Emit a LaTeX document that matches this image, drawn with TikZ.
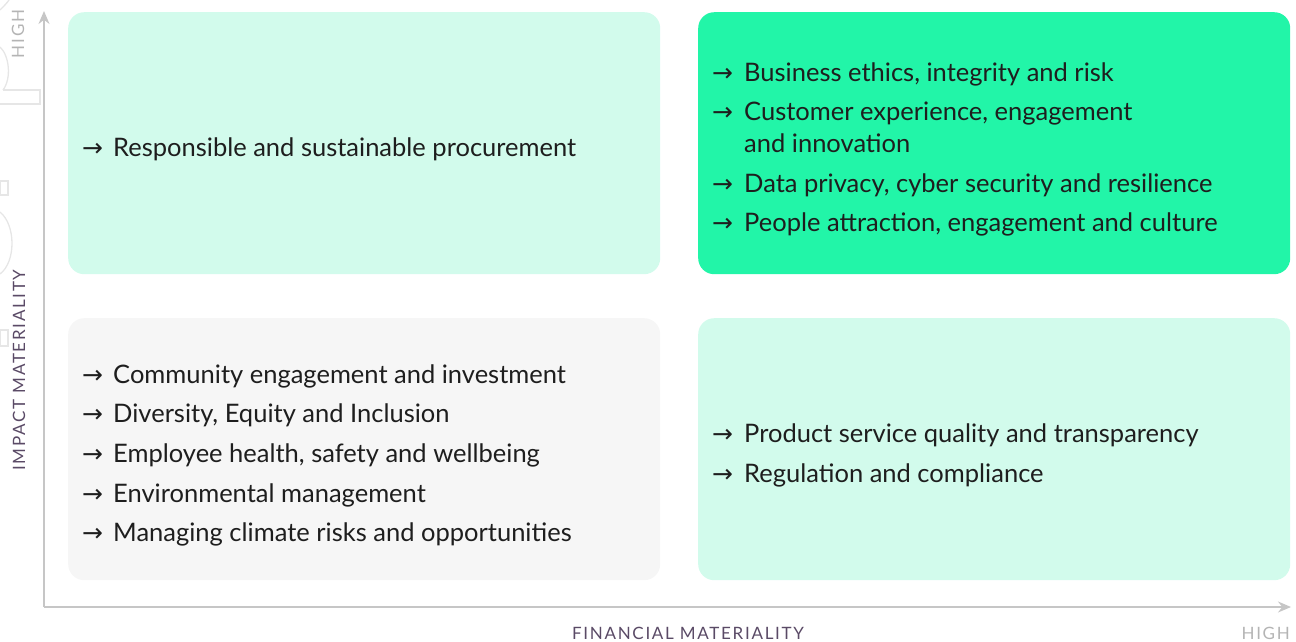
\documentclass[tikz,border=0pt]{standalone}
\usepackage{fontspec}
\setmainfont{Lato}
\newfontfamily\arrowfont{DejaVu Sans}
\newfontfamily\axisfont{Lato}[LetterSpace=10]
\usetikzlibrary{arrows.meta}
\definecolor{mint}{HTML}{D2FBEC}
\definecolor{brightgreen}{HTML}{22F5A8}
\definecolor{panelgray}{HTML}{F6F6F6}
\definecolor{axisgray}{HTML}{C6C6C6}
\definecolor{labelpurple}{HTML}{5A4A66}
\definecolor{highgray}{HTML}{B4B4B4}
\definecolor{faint}{HTML}{E6E6E6}
\definecolor{ink}{HTML}{1E1E1E}
\tikzset{
  panel/.style={rounded corners=16pt, draw=none, anchor=north west, inner sep=0pt,
    minimum width=592pt, minimum height=262pt},
  item/.style={anchor=base west, inner sep=0pt, text=ink, align=left,
    font=\fontsize{25.5}{32}\selectfont},
  arrowmark/.style={anchor=base west, inner sep=0pt, text=ink,
    font=\arrowfont\fontsize{25}{28}\selectfont},
  axis/.style={draw=axisgray, line width=1.6pt, -{Stealth[length=13pt,width=11pt]}},
  axislabel/.style={inner sep=0pt, text=labelpurple, font=\axisfont\fontsize{17}{19}\selectfont},
  highlabel/.style={inner sep=0pt, text=highgray, font=\axisfont\fontsize{17}{19}\selectfont},
  ghost/.style={draw=faint, line width=1.3pt}
}
\begin{document}
\begin{tikzpicture}[x=1pt,y=-1pt]
\useasboundingbox (0,0) rectangle (1296,641);
% faint background outlines
\draw[ghost] (0,10) .. controls (4,6) and (7,3) .. (9,0);
\draw[ghost] (0,47) .. controls (9,55) and (12,78) .. (3,90);
\draw[ghost] (3,90) -- (40,90) -- (40,104) -- (0,104);
\draw[ghost] (0,181) rectangle (8,195);
\draw[ghost] (0,212) .. controls (16,225) and (16,262) .. (0,274);
\draw[ghost] (0,330) rectangle (8,346);
% panels
\node[panel, fill=mint] (tl) at (68,12) {};
\node[panel, fill=brightgreen] (tr) at (698,12) {};
\node[panel, fill=panelgray] (bl) at (68,318) {};
\node[panel, fill=mint] (br) at (698,318) {};
% axes
\coordinate (origin) at (44,607);
\coordinate (ytop) at (44,11);
\coordinate (xend) at (1291,607);
\draw[axis] (origin) -- (ytop);
\draw[axis] (origin) -- (xend);
\node[highlabel, rotate=90, anchor=base] (yhigh) at (24,34) {HIGH};
\node[axislabel, rotate=90, anchor=base] (ylabel) at (25,370) {IMPACT MATERIALITY};
\node[axislabel, anchor=base] (xlabel) at (688,639) {FINANCIAL MATERIALITY};
\node[highlabel, anchor=base east] (xhigh) at (1290,639) {HIGH};
% top left
\node[arrowmark] (a1) at (82,156) {→};
\node[item] (t1) at (113,156) {Responsible and sustainable procurement};
% top right
\node[arrowmark] (a2) at (712,81) {→};
\node[item] (t2) at (744,81) {Business ethics, integrity and risk};
\node[arrowmark] (a3) at (712,120) {→};
\node[item] (t3) at (744,152) {Customer experience, engagement\\and innovation};
\node[arrowmark] (a4) at (712,192) {→};
\node[item] (t4) at (744,192) {Data privacy, cyber security and resilience};
\node[arrowmark] (a5) at (712,231) {→};
\node[item] (t5) at (744,231) {People attraction, engagement and culture};
% bottom left
\node[arrowmark] (a6) at (82,383) {→};
\node[item] (t6) at (113,383) {Community engagement and investment};
\node[arrowmark] (a7) at (82,422) {→};
\node[item] (t7) at (113,422) {Diversity, Equity and Inclusion};
\node[arrowmark] (a8) at (82,462) {→};
\node[item] (t8) at (113,462) {Employee health, safety and wellbeing};
\node[arrowmark] (a9) at (82,502) {→};
\node[item] (t9) at (113,502) {Environmental management};
\node[arrowmark] (a10) at (82,541) {→};
\node[item] (t10) at (113,541) {Managing climate risks and opportunities};
% bottom right
\node[arrowmark] (a11) at (712,442) {→};
\node[item] (t11) at (744,442) {Product service quality and transparency};
\node[arrowmark] (a12) at (712,482) {→};
\node[item] (t12) at (744,482) {Regulation and compliance};
\end{tikzpicture}
\end{document}
